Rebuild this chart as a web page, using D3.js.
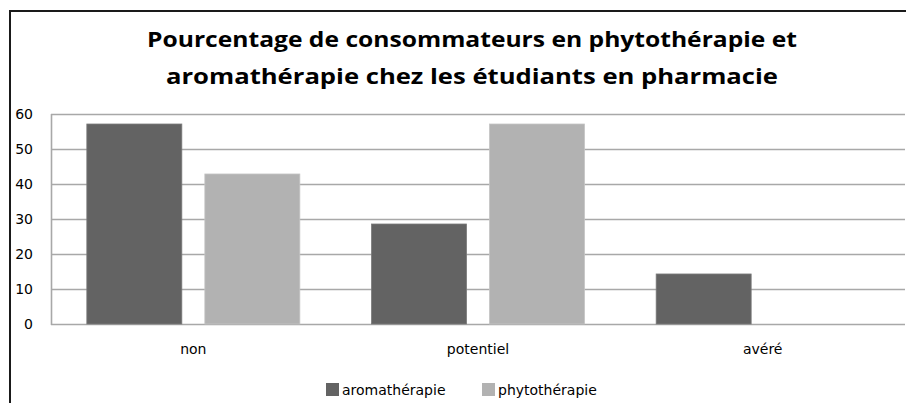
<!DOCTYPE html>
<html>
<head>
<meta charset="utf-8">
<script src="https://cdn.jsdelivr.net/npm/d3@7"></script>
<style>
  body { margin: 0; background: #fff; }
  svg text { font-family: "DejaVu Sans", Verdana, sans-serif; }
</style>
</head>
<body>
<div id="chart"></div>
<script>
(function () {
  var categories = ['non', 'potentiel', 'avéré'];
  var seriesNames = ['aromathérapie', 'phytothérapie'];
  var aromatherapie = [57.14, 28.57, 14.29];
  var phytotherapie = [42.86, 57.14, 0];
  var yTicks = [0, 10, 20, 30, 40, 50, 60];
  var titleLines = [
    'Pourcentage de consommateurs  en phytothérapie  et',
    'aromathérapie chez les étudiants  en pharmacie'
  ];

  var width = 906;
  var height = 403;
  var colors = ['#636363', '#b2b2b2'];
  var plot = {left: 51, right: 905, top: 114, bottom: 324};

  var svg = d3.select('#chart').append('svg')
        .attr('width', width)
        .attr('height', height);

  // chart frame (only top and left edges show in the picture)
  svg.append('path')
    .attr('d', 'M10,' + (height + 5) + 'V11H' + (width + 5))
    .attr('fill', 'none')
    .attr('stroke', '#1a1a1a')
    .attr('stroke-width', 2);

  // title
  svg.append('g')
    .selectAll('text')
    .data(titleLines)
    .enter()
    .append('text')
    .attr('x', 472)
    .attr('y', function (d, i) { return 47 + i * 37; })
    .attr('text-anchor', 'middle')
    .style('font-family', '"Open Sans", sans-serif')
    .style('font-weight', 'bold')
    .style('font-size', '22px')
    .attr('fill', '#000')
    .attr('textLength', function (d, i) { return i === 0 ? 650 : 612; })
    .attr('lengthAdjust', 'spacingAndGlyphs')
    .text(function (d) { return d; });

  var y = d3.scaleLinear()
        .domain([0, 60])
        .range([plot.bottom, plot.top]);

  var x0 = d3.scaleBand()
        .domain(categories)
        .range([plot.left, plot.right]);

  var inner = 213; // width used by the two bars with the gap
  var x1 = d3.scaleBand()
        .domain(seriesNames)
        .range([0, inner])
        .paddingInner(0.195);

  // gridlines
  svg.append('g')
    .selectAll('line')
    .data(yTicks)
    .enter()
    .append('line')
    .attr('x1', plot.left)
    .attr('x2', plot.right)
    .attr('y1', function (d) { return y(d) + 0.5; })
    .attr('y2', function (d) { return y(d) + 0.5; })
    .attr('stroke', '#a8a8a8')
    .attr('stroke-width', 1.6);

  svg.append('line')
    .attr('x1', plot.left + 0.5)
    .attr('x2', plot.left + 0.5)
    .attr('y1', plot.top)
    .attr('y2', plot.bottom + 1)
    .attr('stroke', '#a8a8a8')
    .attr('stroke-width', 1.6);

  // y axis labels
  var yAxis = d3.axisLeft(y)
        .tickValues(yTicks)
        .tickSize(0)
        .tickPadding(18);

  var yg = svg.append('g')
        .attr('transform', 'translate(' + plot.left + ',0)')
        .call(yAxis);
  yg.select('.domain').remove();
  yg.selectAll('text')
    .style('font-family', '"DejaVu Sans", Verdana, sans-serif')
    .style('font-size', '14px')
    .attr('fill', '#000');

  // bars
  var rows = categories.map(function (c, i) {
    return {cat: c, values: [aromatherapie[i], phytotherapie[i]]};
  });

  var groups = svg.selectAll('.grp')
        .data(rows)
        .enter()
        .append('g')
        .attr('class', 'grp')
        .attr('transform', function (d) {
          return 'translate(' + (x0(d.cat) + (x0.bandwidth() - inner) / 2) + ',0)';
        });

  groups.selectAll('rect')
    .data(function (d) {
      return d.values.map(function (v, j) { return {name: seriesNames[j], value: v, j: j}; });
    })
    .enter()
    .filter(function (d) { return d.value > 0; })
    .append('rect')
    .attr('x', function (d) { return x1(d.name); })
    .attr('width', x1.bandwidth())
    .attr('y', function (d) { return y(d.value); })
    .attr('height', function (d) { return y(0) - y(d.value); })
    .attr('fill', function (d) { return colors[d.j]; })
    .attr('stroke', function (d) { return d.j === 0 ? '#7a7a7a' : '#c4c4c4'; })
    .attr('stroke-width', 0.8);

  // category labels
  var xAxis = d3.axisBottom(x0)
        .tickSize(0)
        .tickPadding(20);
  var xg = svg.append('g')
        .attr('transform', 'translate(0,' + plot.bottom + ')')
        .call(xAxis);
  xg.select('.domain').remove();
  xg.selectAll('text')
    .style('font-family', '"DejaVu Sans", Verdana, sans-serif')
    .style('font-size', '14px')
    .attr('fill', '#000');

  // legend
  var legendX = [326, 482];
  var legend = svg.selectAll('.leg')
        .data(seriesNames)
        .enter()
        .append('g')
        .attr('class', 'leg')
        .attr('transform', function (d, i) { return 'translate(' + legendX[i] + ',383)'; });

  legend.append('rect')
    .attr('width', 13)
    .attr('height', 13)
    .attr('fill', function (d, i) { return colors[i]; });

  legend.append('text')
    .attr('x', 16)
    .attr('y', 11.5)
    .style('font-size', '14px')
    .attr('fill', '#000')
    .text(function (d) { return d; });
})();
</script>
</body>
</html>
